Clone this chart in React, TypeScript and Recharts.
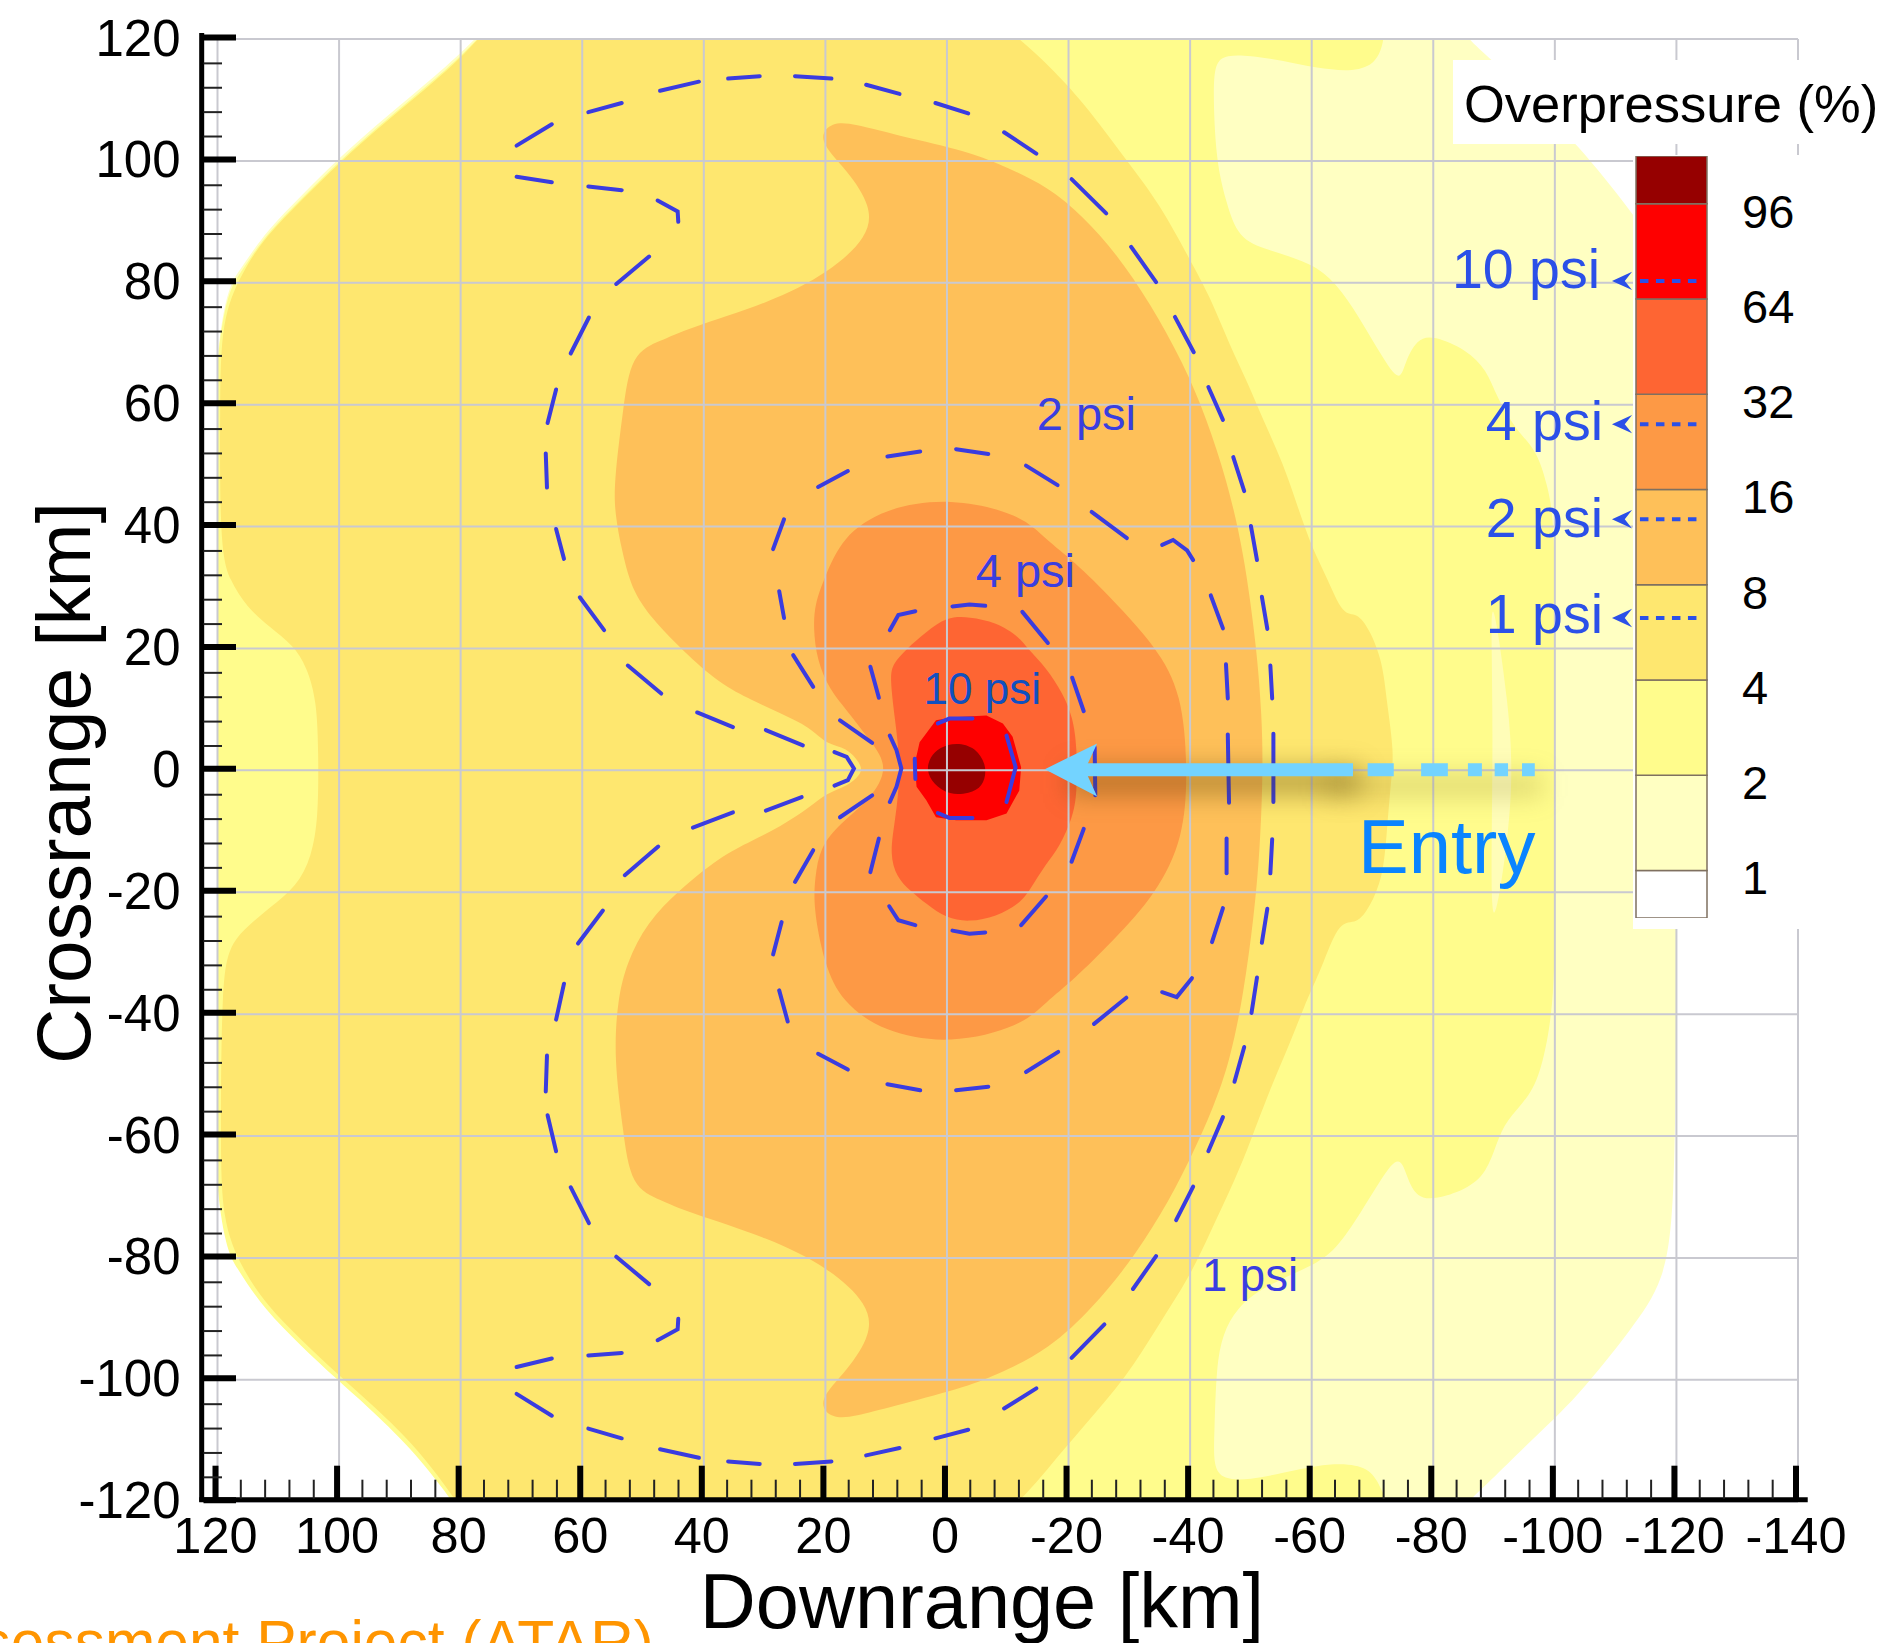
import { Bar, BarChart, Curve, ReferenceLine, Scatter, ScatterChart, XAxis, YAxis } from "recharts";

type Pt = [number, number];

const FONT = '"Liberation Sans", Arial, sans-serif';
const WIDTH = 1885;
const HEIGHT = 1643;
const PLOT_MARGIN = { left: 217.5, right: 87, top: 39, bottom: 141.3 };

const X_DOMAIN = [-140, 120];
const Y_DOMAIN = [-120, 120];
const gridX = [120, 100, 80, 60, 40, 20, 0, -20, -40, -60, -80, -100, -120, -140];
const gridY = [120, 100, 80, 60, 40, 20, 0, -20, -40, -60, -80, -100, -120];
const tickX = [
	120, 116, 112, 108, 104, 100, 96, 92, 88, 84, 80, 76, 72, 68, 64, 60, 56, 52, 48, 44, 40, 36, 32, 28, 24, 20, 16, 12, 8, 4, 0,
	-4, -8, -12, -16, -20, -24, -28, -32, -36, -40, -44, -48, -52, -56, -60, -64, -68, -72, -76, -80, -84, -88, -92, -96, -100,
	-104, -108, -112, -116, -120, -124, -128, -132, -136, -140,
];
const tickY = [
	120, 116, 112, 108, 104, 100, 96, 92, 88, 84, 80, 76, 72, 68, 64, 60, 56, 52, 48, 44, 40, 36, 32, 28, 24, 20, 16, 12, 8, 4, 0,
	-4, -8, -12, -16, -20, -24, -28, -32, -36, -40, -44, -48, -52, -56, -60, -64, -68, -72, -76, -80, -84, -88, -92, -96, -100,
	-104, -108, -112, -116, -120,
];

// filled contour bands, lowest level first (km downrange, km crossrange)
const band1: Pt[] = [
	[122, 74], [116, 82.5], [112, 88.5], [106, 94.5], [100, 100.5], [92, 107.5], [84, 114], [77.5, 120], [75, 123], [-84, 123],
	[-85.6, 120], [-89.3, 117], [-96, 110], [-103.6, 103], [-112.8, 91.4], [-118, 84], [-119.7, 72], [-120, 40], [-120, 0], [-120, -40],
	[-119.7, -72], [-118, -84], [-112.8, -91.4], [-103.6, -103], [-96, -110], [-89, -117], [-85.6, -120], [-84, -123], [79, -123],
	[80.7, -120], [88, -110.5], [95, -104], [100, -99.5], [106, -94], [112, -88], [116, -82], [122, -74],
];
const band2: Pt[] = [
	[122, 73], [116, 82], [112, 88], [106, 94], [100, 100], [92, 107], [84, 113.5], [77.5, 119.5], [75, 123], [-71.8, 123], [-72, 120],
	[-70.7, 116], [-67, 114.6], [-60.8, 115.2], [-55, 116.5], [-49.8, 117.3], [-46, 117.4], [-44, 116.2], [-43.8, 110.4], [-44.3, 99.7],
	[-46, 93], [-47.9, 87.3], [-52.6, 85.4], [-60, 83.3], [-64, 80], [-67.8, 74.4], [-71.6, 67.8], [-74.5, 63.5], [-75.3, 66.8], [-77.3, 70.8],
	[-80, 71.4], [-85.5, 69], [-88.8, 65.7], [-90.4, 61.3], [-93.6, 55.8], [-97, 52.6], [-98.7, 47], [-100, 41], [-100, 20], [-100, 0],
	[-100, -20], [-100, -37.7], [-98, -48.6], [-95.9, -53.5], [-92, -57.4], [-90.4, -61.2], [-88.8, -66], [-85.5, -68.8], [-80, -70.5],
	[-77.3, -70], [-75.8, -67.2], [-74.5, -62.8], [-71.6, -66.7], [-68, -72.7], [-64, -78.7], [-60, -81.4], [-52, -84.7], [-47.6, -88.3],
	[-45.4, -92.4], [-44.3, -97.8], [-44, -108.7], [-43.8, -114.2], [-45.4, -116.4], [-49.8, -116.4], [-55.3, -115.3], [-60.8, -114],
	[-66.3, -113.7], [-70, -114.8], [-71.7, -118.6], [-72.5, -120], [-73, -123], [79.5, -123], [81.2, -120], [88.5, -110.8], [95.4, -104.3],
	[100.4, -99.9], [106.3, -94.4], [112.3, -88.4], [116.4, -82.4], [122, -73],
];
const streak: Pt[] = [
	[-89.5, 31], [-89.6, 20], [-89.8, 5], [-89.6, -10], [-89.5, -30], [-92.5, -10], [-93, 0], [-92.5, 10],
];
const band3: Pt[] = [
	[119.4, 74], [116, 81.7], [112, 87.7], [106, 93.7], [100, 99.7], [92, 106.7], [84, 113.2], [77.5, 119.3], [75, 123], [-8, 123], [-12, 120],
	[-16.9, 115.5], [-22.4, 109.7], [-29.6, 100], [-35, 93], [-40, 83.7], [-43.3, 77.7], [-46.6, 69.5], [-49.3, 64], [-52, 57.5], [-55.3, 50.4],
	[-57.7, 43.2], [-60.2, 36.1], [-62.5, 31.7], [-65.2, 25.2], [-67.4, 26], [-69.6, 23], [-71.7, 17.6], [-72.3, 11.5], [-73.6, 2.8], [-73, -2],
	[-72.3, -11], [-71.7, -17.5], [-69.6, -22.4], [-67.4, -25.3], [-64.6, -24.5], [-61.9, -31.7], [-60, -36], [-59.2, -37.7], [-56.4, -44.8],
	[-53.1, -52.4], [-49.8, -61.2], [-47.6, -66.7], [-43.2, -76], [-40, -83], [-34.6, -91.3], [-29.6, -99.5], [-22.4, -107.7], [-16.9, -114.2],
	[-12, -120], [-8, -123], [79, -123], [81, -119.3], [88, -110.2], [95, -103.7], [100, -99.3], [106, -93.7], [112, -87.7], [116, -81.7],
	[119.3, -74], [119.5, -60], [119.3, -34.4], [118, -29], [115.8, -26.2], [111.4, -22.5], [107, -19.1], [104.5, -14.2], [103.4, -7.6],
	[103.4, 3.3], [103.7, 11.5], [105.3, 17], [107.6, 20.6], [111.4, 23.5], [115.2, 26.8], [118, 31.2], [119.6, 36.2], [119.6, 60],
];
const band4: Pt[] = [
	[21.5, 103.5], [19, 106.5], [15, 106], [9.4, 104.5], [-2.5, 101.8], [-8, 99.8], [-16.9, 95.7], [-22.4, 90.8], [-27.9, 84.8], [-33.4, 76.7], [-38.9, 66.8],
	[-42.8, 57.5], [-46, 47.7], [-48.8, 36.1], [-51, 19.7], [-51.8, 8.8], [-52, 0], [-51.5, -13], [-50.5, -24], [-48.8, -36.6], [-46.6, -47.5],
	[-43.9, -55.2], [-40, -63.9], [-35.1, -73.2], [-29.6, -81.4], [-24.1, -88], [-16.9, -95], [-8, -99.3], [-2.5, -101.4], [9.4, -104.5], [15, -106], [19, -106.5],
	[21.5, -103.5], [16.3, -98.4], [12.4, -92.5], [12.9, -87.6], [19.3, -81.7], [29.2, -76.7], [43, -72.4], [47, -70.5], [52, -68.5], [53.3, -59], [54.8, -47.1],
	[54.2, -37.7], [52.7, -31.6], [49.4, -25], [44, -19.6], [37.4, -14.2], [32, -11.5], [27.5, -9.3], [22.5, -6], [19.8, -3.7], [16.5, -2.7],
	[13.8, -0.4], [14.3, 1.2], [16.5, 3.8], [19.8, 4.2], [22.5, 7.1], [27.5, 9.4], [32, 11.5], [37.4, 14.2], [43.5, 19.7], [47.8, 24.1], [51.7, 29],
	[53.5, 36.1], [54.6, 42], [54.8, 47.1], [53.3, 59], [52, 68.5], [47, 70.5], [43, 72.4], [29.2, 76.7], [19.3, 81.7], [12.9, 87.6], [12.4, 92.5], [16.3, 98.4],
];
const band5: Pt[] = [
	[10.4, 43], [-0.5, 44.8], [-12.3, 42], [-16.3, 37.8], [-20.7, 34.5], [-27.3, 28], [-34.4, 20.3], [-38.7, 12.6], [-39.6, 0], [-39, -11],
	[-34.4, -20.3], [-27.3, -28], [-20.7, -34.5], [-16.3, -38], [-12.3, -42], [-0.5, -45], [10.4, -43], [17.3, -38], [20.2, -31.8], [22, -22.4],
	[21.7, -17.5], [20.9, -12.6], [17.6, -8.7], [12.7, -4.9], [9.4, 0.5], [12.7, 5], [16.5, 9.9], [19.3, 13.2], [21.4, 18.1], [22, 23.5], [21.7, 27.4],
	[20.2, 31.4], [17.3, 38.3],
];
const band6: Pt[] = [
	[0.1, 25.2], [-3.7, 25.2], [-8.1, 24.3], [-11.9, 21.9], [-13.3, 19.9], [-16.3, 16.9], [-19.1, 12.6], [-20.7, 8.7], [-21.4, 3.8], [-21.4, -3.8],
	[-20.7, -7.7], [-18.5, -12.6], [-16.3, -15.3], [-13.6, -19.7], [-11.9, -21.9], [-8.1, -24], [-3.7, -24.9], [0.1, -24.3], [3.4, -21.9], [6.1, -19.7],
	[8.3, -17.5], [9.4, -13.7], [8.6, -8.7], [7.5, 0], [8.6, 8.7], [9.4, 15.3], [8.9, 17.5], [6.7, 19.9], [3.4, 22.7],
];
const band7: Pt[] = [
	[1.8, 8.2], [-1, 8.7], [-6.5, 9], [-9.2, 7.7], [-10.8, 5.5], [-12.2, 0.5], [-11.9, -3.3], [-9.8, -7.1], [-6.5, -8.2], [-1.5, -8.2], [1.8, -7.7],
	[3.4, -4.9], [5, -2.7], [5.3, 1.1], [4.5, 4.6],
];
const band8: Pt[] = [
	[2.8, 2.2], [1.2, 3.8], [-1.5, 4.6], [-4.8, 3.8], [-6.7, 0.5], [-5.9, -2.7], [-3.7, -3.8], [-0.4, -4.1], [2.3, -2.2], [3.4, 0],
];

// dashes of the psi contours, as they stand in the picture
const psi1: Pt[][] = [
	[[70.8, 102.5], [65, 106]], [[59, 108], [53.5, 109.5]], [[47.2, 111.5], [40.8, 113]], [[36, 113.5], [30.8, 113.9]], [[25, 113.9], [19, 113.5]],
	[[13.3, 112.5], [7.8, 111]], [[1.9, 109.5], [-3.5, 107.8]], [[-9.4, 104.7], [-14.7, 101.2]], [[-20.5, 97], [-26.2, 91.4]], [[-30.3, 85.9], [-34.4, 80.1]],
	[[-37.5, 74.4], [-40.6, 68.6]], [[-43, 62.9], [-45.4, 57.5]], [[-47.1, 51.4], [-48.9, 45.8]], [[-50, 40.1], [-51, 34.5]], [[-51.8, 28.5], [-52.7, 23.2]],
	[[-53.2, 17.2], [-53.5, 11.8]], [[-53.7, 6], [-53.7, -5.2]], [[-53.5, -11.3], [-53.2, -16.9]], [[-52.7, -22.7], [-51.8, -28.3]], [[-51, -34], [-50.1, -39.8]],
	[[-48.9, -45.4], [-47.3, -51.1]], [[-45.4, -56.9], [-43, -62.5]], [[-40.5, -68.3], [-37.7, -73.8]], [[-34.4, -79.7], [-30.6, -85.1]], [[-25.9, -90.9], [-20.5, -96.4]],
	[[-14.7, -101.4], [-9.4, -104.7]], [[-3.5, -108.2], [1.9, -109.6]], [[7.8, -111.2], [13.3, -112.4]], [[19, -113.4], [25, -113.8]], [[30.8, -113.8], [36, -113.4]],
	[[40.8, -112.8], [47.2, -111.4]], [[53.5, -109.6], [59, -108]], [[65, -105.9], [70.8, -102.3]], [[70.8, -97.9], [65, -96.5]], [[59, -96], [53.5, -95.6]],
	[[47.6, -93.5], [44.3, -91.7], [44.2, -90]], [[49, -84.3], [54.4, -79.8]], [[58.9, -74.3], [61.9, -68.4]], [[64.3, -62.5], [65.7, -56.6]], [[66, -52.7], [65.8, -46.8]],
	[[64.3, -40.9], [63, -35]], [[60.7, -28.4], [56.6, -23]], [[53, -17.2], [47.5, -12.5]], [[41.8, -9.4], [35.2, -6.9]], [[29.8, -6.6], [23.9, -4.4]],
	[[18.5, -2.5], [16.3, -1.6], [15.3, 0.3], [16.5, 2.2], [18.5, 3]],
	[[23.7, 4.1], [29.8, 6.6]], [[35.2, 7.1], [41.1, 9.5]], [[47, 12.6], [52.5, 17.2]], [[56.4, 23], [60.4, 28.4]], [[63, 34.7], [64.3, 39.6]], [[65.8, 46.4], [66, 52]],
	[[65.7, 57], [64.3, 62.5]], [[61.9, 68.4], [58.9, 74.3]], [[54.4, 79.8], [49, 84.3]], [[44.2, 90], [44.3, 91.7], [47.6, 93.5]], [[53.5, 95.2], [59, 95.8]], [[65, 96.5], [70.8, 97.4]],
];
const psi2: Pt[][] = [
	[[28.6, 36.3], [26.8, 41.2]], [[21.2, 46.5], [16.3, 49.1]], [[9.8, 51.5], [4.4, 52.3]], [[-1.5, 52.7], [-6.8, 51.9]], [[-13, 50], [-18.2, 46.8]], [[-23.8, 42.4], [-29.6, 38.1]],
	[[-35.4, 37], [-37.2, 37.8], [-39.5, 36.1], [-40.5, 34.5]], [[-43.4, 28.7], [-45.4, 23.3]], [[-45.9, 17.4], [-46.2, 11.8]], [[-46.2, 5.9], [-46.4, -5.3]], [[-46, -11.2], [-46, -16.9]],
	[[-45.4, -22.6], [-43.6, -28.2]], [[-35.4, -36.4], [-37.8, -37.2], [-40.3, -34.1]], [[-24.2, -41.6], [-29.5, -37.3]], [[-13, -49.5], [-18.3, -46.2]], [[-1.5, -52.5], [-6.8, -51.9]],
	[[9.8, -51.5], [4.4, -52.5]], [[21.2, -46.5], [16.3, -49.1]], [[27.6, -36.1], [26.2, -41.2]], [[27.2, -24.9], [28.6, -30.2]], [[25, -18.3], [22, -13.1]], [[17.6, -7.7], [12.3, -4.1]],
	[[17.6, 8.2], [12.3, 4.5]], [[25.3, 18.9], [22, 13.7]], [[27.6, 29.4], [26.8, 25]],
];
const psi4: Pt[][] = [
	[[9.4, 5.7], [8.3, 3.3], [7.5, 0.3], [8.3, -2.7], [9.4, -5.2]], [[12.6, 17], [11.2, 11.9]], [[12.6, -16.7], [11.2, -11.2]], [[9.4, 23], [8, 25.5], [5.2, 26.1]],
	[[-0.9, 26.9], [-3.7, 27.2], [-6.3, 27]], [[-12.4, 26], [-16.6, 20.9]], [[-20.6, 15.2], [-22.5, 9.7]], [[-24.3, 3.8], [-24.4, -4.1]], [[-22.5, -9.6], [-20.5, -15]],
	[[-16.3, -20.7], [-12.2, -25.4]], [[-6.3, -26.6], [-3.7, -26.8], [-0.9, -26.3]], [[5.2, -25.4], [8, -24.6], [9.5, -22.3]],
];
const psi10: Pt[][] = [
	[[1.5, 7.7], [-0.4, 8.5], [-4.2, 8.5]], [[-9.8, 5.7], [-11.3, 0.5], [-9.8, -5.2]], [[-4.2, -7.8], [-0.4, -7.8], [1.5, -7]], [[5.3, 1.9], [5.2, -1.4]],
];

const entryShaft: Pt[] = [[-22.7, 0.1], [-66.8, 0.1]];
const entryDashes: Pt[][] = [
	[[-69.2, 0.1], [-73.5, 0.1]], [[-78, 0.1], [-82.4, 0.1]], [[-85.7, 0.1], [-88, 0.1]], [[-90.1, 0.1], [-92.3, 0.1]], [[-94.6, 0.1], [-96.7, 0.1]],
];
const entryHead: Pt[] = [[-16.1, 0.2], [-24.7, 4.4], [-22.7, 0.1], [-24.7, -4.3]];
const entryShadow: Pt[] = [[-20, -1.8], [-68, -1.8]];
const entryShadowFar: Pt[] = [[-62, -2.5], [-98, -2.5]];

// legend arrows pointing at the colour bar: crossrange position of each psi level
const psiKeyLevels = [80.3, 56.8, 41.2, 25];
const psiKeyLabels = ["10 psi", "4 psi", "2 psi", "1 psi"];
const psiKeyDash = [-114, -123.4];
const psiKeyHead = [-109.4, -112.7, -111.5];

const barKeys = ["b0", "b1", "b2", "b3", "b4", "b5", "b6", "b7", "b8"];
const barSizes = [0.5, 1, 1, 1, 1, 1, 1, 1, 0.5];
const barColors = ["#ffffff", "#ffffc2", "#fffc8c", "#fee76f", "#fec059", "#fd9945", "#fe6533", "#fe0000", "#960000"];
const barTicks = [0.5, 1.5, 2.5, 3.5, 4.5, 5.5, 6.5, 7.5];
const barLabels = ["1", "2", "4", "8", "16", "32", "64", "96"];

const fills: { points: Pt[]; color: string; joint?: "linearClosed" | "basisClosed" }[] = [
	{ points: band1, color: "#ffffc2" },
	{ points: band2, color: "#fffc8c" },
	{ points: streak, color: "#fffdb8" },
	{ points: band3, color: "#fee76f" },
	{ points: band4, color: "#fec059" },
	{ points: band5, color: "#fd9945" },
	{ points: band6, color: "#fe6533" },
	{ points: band7, color: "#fe0000", joint: "linearClosed" },
	{ points: band8, color: "#960000" },
];

const rows = (points: Pt[]) => points.map(([x, y]) => ({ x, y }));
const noDot = () => <g />;

function polyline(key: string, points: Pt[], stroke: string, strokeWidth: number, extra: Record<string, unknown> = {}) {
	return (
		<Scatter
			key={key}
			data={rows(points)}
			isAnimationActive={false}
			shape={noDot}
			fill="none"
			line={{ stroke, strokeWidth, fill: "none", ...extra }}
		/>
	);
}

function blurred(key: string, points: Pt[], stroke: string, strokeWidth: number, blur: number) {
	return (
		<Scatter
			key={key}
			data={rows(points)}
			isAnimationActive={false}
			shape={noDot}
			fill="none"
			line={(p: any) => <Curve {...p} stroke={stroke} strokeWidth={strokeWidth} fill="none" style={{ filter: `blur(${blur}px)` }} />}
		/>
	);
}

function polygon(key: string, points: Pt[], color: string, joint: "linearClosed" | "basisClosed" = "basisClosed") {
	return (
		<Scatter
			key={key}
			data={rows(points)}
			isAnimationActive={false}
			shape={noDot}
			fill="none"
			lineJointType={joint}
			line={{ stroke: "none", fill: color }}
		/>
	);
}

function XTick({ x, y, payload }: any) {
	const value = payload.value;
	if (value % 20 !== 0) {
		return <line x1={x - 1} x2={x - 1} y1={y - 3} y2={y - 22} stroke="#222" strokeWidth={2} />;
	}
	return (
		<g>
			<line x1={x - 2} x2={x - 2} y1={y - 3} y2={y - 36} stroke="#000" strokeWidth={6} />
			<text x={x - 2} y={y + 51} textAnchor="middle" fontFamily={FONT} fontSize={50.5} fill="#000">
				{value}
			</text>
		</g>
	);
}

function YTick({ x, y, payload }: any) {
	const value = payload.value;
	if (value % 20 !== 0) {
		return <line x1={x - 14} x2={x + 4.5} y1={y} y2={y} stroke="#222" strokeWidth={2} />;
	}
	return (
		<g>
			<line x1={x - 14} x2={x + 18.5} y1={y - 1.5} y2={y - 1.5} stroke="#000" strokeWidth={6} />
			<text x={x - 37} y={y + 16.5} textAnchor="end" fontFamily={FONT} fontSize={51} fill="#000">
				{value}
			</text>
		</g>
	);
}

function BarTick({ x, y, payload }: any) {
	const label = barLabels[barTicks.indexOf(payload.value)];
	return (
		<text x={x + 30} y={y + 24} fontFamily={FONT} fontSize={47} fill="#000">
			{label}
		</text>
	);
}

const layer = { position: "absolute", left: 0, top: 0 } as const;

export default function App() {
	const barRow = barKeys.reduce<Record<string, number | string>>(
		(row, key, i) => {
			row[key] = barSizes[i];
			return row;
		},
		{ name: "Overpressure" },
	);

	return (
		<div style={{ position: "absolute", left: 0, top: 0, width: WIDTH, height: HEIGHT, overflow: "hidden", background: "#fff" }}>
			{/* contour bands, clipped to the plot */}
			<div style={layer}>
				<ScatterChart width={WIDTH} height={HEIGHT} margin={PLOT_MARGIN}>
					<XAxis hide type="number" dataKey="x" domain={X_DOMAIN} reversed allowDataOverflow />
					<YAxis hide type="number" dataKey="y" domain={Y_DOMAIN} allowDataOverflow />
					{fills.map((f, i) => polygon(`band-${i}`, f.points, f.color, f.joint))}
				</ScatterChart>
			</div>

			{/* grid and psi contours */}
			<div style={layer}>
				<ScatterChart width={WIDTH} height={HEIGHT} margin={PLOT_MARGIN}>
					<XAxis hide type="number" dataKey="x" domain={X_DOMAIN} reversed />
					<YAxis hide type="number" dataKey="y" domain={Y_DOMAIN} />
					{gridX.map((v) => polyline(`gx-${v}`, [[v, 120], [v, -120]], "#c9c9d0", 2))}
					{gridY.map((v) => polyline(`gy-${v}`, [[120, v], [-140, v]], "#c9c9d0", 2))}
					{[...psi1, ...psi2, ...psi4, ...psi10].map((d, i) =>
						polyline(`psi-${i}`, d, "#3a3ce0", 4, { strokeLinecap: "round" }),
					)}
				</ScatterChart>
			</div>

			{/* legend background */}
			<div style={{ position: "absolute", left: 1453, top: 60, width: 432, height: 84, background: "#fff" }} />
			<div style={{ position: "absolute", left: 1633, top: 155, width: 170, height: 774, background: "#fff" }} />

			<div style={{ position: "absolute", left: 1631, top: 156 }}>
				<BarChart width={181} height={762} data={[barRow]} margin={{ left: 0, right: 0, top: 0, bottom: 0 }} barCategoryGap={0}>
					<XAxis hide dataKey="name" />
					<YAxis
						orientation="right"
						type="number"
						width={100}
						domain={[0, 8]}
						ticks={barTicks}
						interval={0}
						axisLine={false}
						tickLine={false}
						tickSize={0}
						tickMargin={0}
						tick={BarTick}
					/>
					{barKeys.map((key, i) => (
						<Bar
							key={key}
							dataKey={key}
							stackId="levels"
							barSize={71}
							fill={barColors[i]}
							stroke="#7f7060"
							strokeWidth={1.5}
							isAnimationActive={false}
						/>
					))}
				</BarChart>
			</div>

			{/* axes, entry arrow and legend arrows */}
			<div style={layer}>
				<ScatterChart
					width={WIDTH}
					height={HEIGHT}
					margin={{ left: PLOT_MARGIN.left - 120, right: PLOT_MARGIN.right, top: PLOT_MARGIN.top, bottom: PLOT_MARGIN.bottom - 100 }}
				>
					<XAxis
						type="number"
						dataKey="x"
						domain={X_DOMAIN}
						reversed
						ticks={tickX}
						interval={0}
						height={100}
						axisLine={false}
						tickLine={false}
						tickSize={0}
						tickMargin={0}
						tick={XTick}
					/>
					<YAxis
						type="number"
						dataKey="y"
						domain={Y_DOMAIN}
						ticks={tickY}
						interval={0}
						width={120}
						axisLine={false}
						tickLine={false}
						tickSize={0}
						tickMargin={0}
						tick={YTick}
					/>
					<ReferenceLine
						ifOverflow="visible"
						segment={[{ x: 122.6, y: 121 }, { x: 122.6, y: -120 }]}
						stroke="#000"
						strokeWidth={5}
					/>
					<ReferenceLine
						ifOverflow="visible"
						segment={[{ x: 123, y: -119.66 }, { x: -141.6, y: -119.66 }]}
						stroke="#000"
						strokeWidth={5}
					/>
					{blurred("shadow-far", entryShadowFar, "rgba(110,95,20,0.2)", 24, 12)}
					{blurred("shadow-near", entryShadow, "rgba(85,60,0,0.4)", 26, 13)}
					{polyline("entry-shaft", entryShaft, "#73d3ff", 13)}
					{entryDashes.map((d, i) => polyline(`entry-${i}`, d, "#73d3ff", 13))}
					{polygon("entry-head", entryHead, "#73d3ff", "linearClosed")}
					{psiKeyLevels.map((y) => (
						polyline(`key-${y}`, [[psiKeyDash[0], y], [psiKeyDash[1], y]], "#2b50e8", 4, { strokeDasharray: "8.5 7.5" })
					))}
					{psiKeyLevels.map((y) =>
						polygon(
							`key-head-${y}`,
							[[psiKeyHead[0], y], [psiKeyHead[1], y + 1.5], [psiKeyHead[2], y], [psiKeyHead[1], y - 1.5]],
							"#2b50e8",
							"linearClosed",
						),
					)}
				</ScatterChart>
			</div>

			{/* text */}
			<svg width={WIDTH} height={HEIGHT} style={{ ...layer, pointerEvents: "none" }} fontFamily={FONT}>
				<text x={1464} y={122} fontSize={52.5} fill="#000">Overpressure (%)</text>
				<text x={982} y={1628} fontSize={77.5} textAnchor="middle" fill="#000">Downrange [km]</text>
				<text transform="translate(90 783) rotate(-90)" fontSize={76.6} textAnchor="middle" fill="#000">Crossrange [km]</text>
				<text x={654} y={1663} fontSize={60.5} textAnchor="end" fill="#ff9500">Asteroid Threat Assessment Project (ATAR)</text>
				<text x={1358} y={873} fontSize={76} fill="#0a84ff">Entry</text>
				<text x={1136} y={430} fontSize={47} textAnchor="end" fill="#3a3ee0">2 psi</text>
				<text x={1075} y={587} fontSize={47} textAnchor="end" fill="#3a3ee0">4 psi</text>
				<text x={1041} y={704} fontSize={44} textAnchor="end" fill="#1050c0">10 psi</text>
				<text x={1298} y={1291} fontSize={45.5} textAnchor="end" fill="#3a3ee0">1 psi</text>
				<text x={1600} y={288} fontSize={55.5} textAnchor="end" fill="#2b50e8">{psiKeyLabels[0]}</text>
				<text x={1603} y={440} fontSize={55.5} textAnchor="end" fill="#2b50e8">{psiKeyLabels[1]}</text>
				<text x={1603} y={537} fontSize={55.5} textAnchor="end" fill="#2b50e8">{psiKeyLabels[2]}</text>
				<text x={1603} y={633} fontSize={55.5} textAnchor="end" fill="#2b50e8">{psiKeyLabels[3]}</text>
			</svg>
		</div>
	);
}
